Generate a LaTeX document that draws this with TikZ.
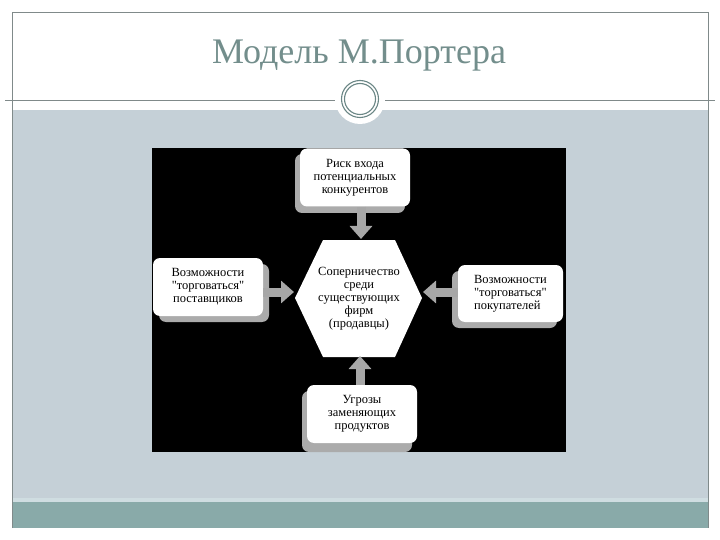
\documentclass[tikz,border=0pt]{standalone}
\usepackage{fontspec}
\setmainfont{Liberation Serif}
\usetikzlibrary{arrows.meta,calc}
\definecolor{slidebg}{HTML}{C5D0D7}
\definecolor{bandc}{HTML}{89AAA9}
\definecolor{lightband}{HTML}{CFDDE1}
\definecolor{framec}{HTML}{808A8A}
\definecolor{titlec}{HTML}{738E8C}
\definecolor{ringc}{HTML}{6A8685}
\definecolor{shadowc}{HTML}{ABABAB}
\definecolor{arrowc}{HTML}{A7A7A7}
\tikzset{
  boxnode/.style={fill=white, rounded corners=7pt, minimum width=110pt, minimum height=58pt,
    inner sep=2pt, align=center, font=\fontsize{12.5}{12.8}\selectfont, text=black},
  hexnode/.style={inner sep=0pt, align=center, font=\fontsize{12.5}{13}\selectfont, text=black},
  blockarrow/.style={draw=arrowc, line width=9pt, -{Triangle[width=22pt,length=13pt]}},
  shadowbox/.style={fill=shadowc, rounded corners=7pt}
}
\begin{document}
\begin{tikzpicture}[x=1pt,y=-1pt]
\useasboundingbox (0,0) rectangle (720,540);
\fill[white] (0,0) rectangle (720,540);
% slide background
\fill[slidebg] (12,110) rectangle (708,502);
\fill[lightband] (12,498) rectangle (708,502);
\fill[bandc] (12,502) rectangle (708,528);
% frame
\draw[framec, line width=0.8pt] (12,528) -- (12,12) -- (708,12) -- (708,528);
\draw[framec, line width=0.8pt] (5,100) -- (715,100);
% title
\node[text=titlec, font=\fontsize{36}{40}\selectfont] (title) at (359,56) {Модель М.Портера};
% emblem
\fill[white] (360,99) circle (25pt);
\draw[ringc, line width=1.1pt] (360,99) circle (18.5pt);
\draw[ringc, line width=1.1pt] (360,99) circle (15.5pt);
% black picture area
\fill[black] (152,148) rectangle (566,452);
% shadows
\fill[shadowbox] (295,154) rectangle (405,213);
\fill[shadowbox] (159,264) rectangle (269,322);
\fill[shadowbox] (452,271) rectangle (557,328);
\fill[shadowbox] (302,391) rectangle (412,452);
% boxes
\node[boxnode] (top) at (355,177.5) {Риск входа\\потенциальных\\конкурентов};
\node[boxnode] (left) at (208,287) {Возможности\\\textquotedbl торговаться\textquotedbl\\поставщиков};
\node[boxnode, minimum width=105pt, minimum height=57pt, align=left] (right) at (510.5,293.5) {Возможности\\\textquotedbl торговаться\textquotedbl\\покупателей};
\node[boxnode, minimum height=58pt] (bottom) at (362,414) {Угрозы\\заменяющих\\продуктов};
% hexagon
\fill[white] (323,240) -- (395,240) -- (422,298) -- (395,357) -- (323,357) -- (295,298) -- cycle;
\node[hexnode] (hex) at (359,299) {Соперничество\\среди\\существующих\\фирм\\(продавцы)};
\coordinate (hexN) at (361,239);
\coordinate (hexW) at (294,292);
\coordinate (hexE) at (423,292);
\coordinate (hexS) at (360,356);
% arrows
\draw[blockarrow] (top.south -| hexN) -- (hexN);
\draw[blockarrow] (left.east |- hexW) -- (hexW);
\draw[blockarrow] (right.west |- hexE) -- (hexE);
\draw[blockarrow] (bottom.north -| hexS) -- (hexS);
\end{tikzpicture}
\end{document}
